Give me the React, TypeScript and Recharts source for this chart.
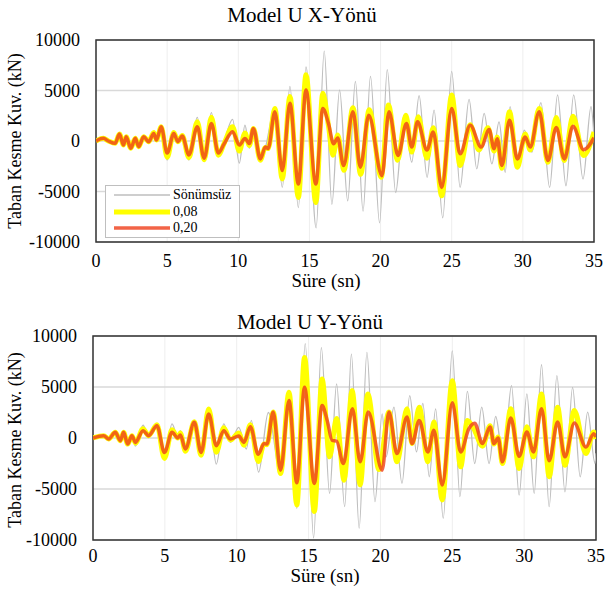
import React from 'react';
import {
  LineChart,
  Line,
  XAxis,
  YAxis,
  CartesianGrid,
  ReferenceArea,
} from 'recharts';

type Pt = [number, number];

const xTicks = [0, 5, 10, 15, 20, 25, 30, 35];
const yTicks = [-10000, -5000, 0, 5000, 10000];
const seriesNames = ['Sönümsüz', '0,08', '0,20'];
const titles = ['Model U  X-Yönü', 'Model U  Y-Yönü'];
const xTitle = 'Süre (sn)';
const yTitle = 'Taban Kesme Kuv. (kN)';

// X direction: [time (s), base shear (kN)] read at the turning points
const xGray: Pt[] = [
  [0, 0], [0.52, 260], [0.87, 0], [1.34, -230], [1.65, 690], [1.93, -400], [2.12, 430],
  [2.45, -720], [2.76, 260], [3.0, -560], [3.35, 430], [3.7, -70], [4.06, 920], [4.25, 100],
  [4.58, 1410], [5.0, -1880], [5.47, 920], [5.75, -70], [6.06, 590], [6.53, -1880],
  [7.12, 2340], [7.6, -2040], [8.11, 2800], [8.6, -1550], [9.0, -70], [9.6, 2140],
  [10.07, -2200], [10.47, 1580], [10.78, -720], [11.06, 1250], [11.6, -1800], [11.9, -700],
  [12.57, 3300], [13.09, -4600], [13.63, 5400], [14.22, -6600], [14.76, 7330], [15.47, -8600],
  [16.04, 8900], [16.58, -6260], [17.12, 5060], [17.69, -5930], [18.23, 5900], [18.77, -6930],
  [19.29, 6400], [19.93, -8100], [20.47, 7070], [21.06, -5100], [21.65, 2560], [22.19, -2100],
  [22.71, 4500], [23.27, -3600], [23.76, 3060], [24.37, -7600], [25.0, 6900], [25.59, -4600],
  [26.22, 4130], [26.76, -2760], [27.28, 2730], [27.82, -2260], [28.33, 1900], [28.76, -3100],
  [29.1, 3400], [29.62, -2760], [30.1, 1070], [30.63, -1100], [31.27, 3800], [31.88, -4600],
  [32.44, 4560], [33.03, -4430], [33.57, 4560], [34.23, -3760], [34.79, 3400], [35, 400],
];
const xYellow: Pt[] = [
  [0, 0], [0.52, 260], [0.87, 0], [1.34, -230], [1.65, 690], [1.93, -400], [2.12, 430],
  [2.45, -720], [2.76, 260], [3.0, -560], [3.35, 430], [3.7, -70], [4.06, 850], [4.25, 100],
  [4.58, 1400], [5.0, -1600], [5.47, 850], [5.75, -70], [6.06, 550], [6.53, -1650],
  [7.12, 1900], [7.6, -1850], [8.11, 2340], [8.6, -1400], [9.0, -250], [9.6, 1400],
  [10.07, -1000], [10.47, 800], [10.78, -450], [11.06, 1250], [11.55, -1900], [11.9, -650],
  [12.1, -750], [12.57, 3230], [13.09, -3760], [13.63, 4400], [14.22, -5600], [14.76, 6560],
  [15.45, -6100], [15.94, 4730], [16.34, 1500], [16.65, -1400], [16.99, 600], [17.42, -2900],
  [18.06, 3300], [18.6, -3300], [19.2, 3100], [20.05, -3600], [20.55, 3560], [21.2, -1900],
  [21.78, 2560], [22.19, -1100], [22.65, 2400], [23.26, -1700], [23.7, 1300], [24.3, -5430],
  [25.0, 4560], [25.59, -2430], [26.3, 1600], [26.9, -900], [27.55, 1300], [27.98, -1000],
  [28.2, 400], [28.52, -2700], [29.06, 2900], [29.62, -2600], [30.16, 700], [30.52, -900],
  [31.15, 3230], [31.76, -2100], [32.35, 2330], [32.91, -1930], [33.52, 2460], [34.27, -1430],
  [35, 900],
];
const xRed: Pt[] = [
  [0, 0], [0.52, 260], [0.87, 0], [1.34, -230], [1.65, 690], [1.93, -400], [2.12, 430],
  [2.45, -720], [2.76, 260], [3.0, -560], [3.35, 430], [3.7, -70], [4.06, 750], [4.25, 100],
  [4.58, 1400], [5.0, -1200], [5.47, 750], [5.75, -70], [6.06, 500], [6.53, -1380],
  [7.12, 1400], [7.6, -1700], [8.11, 1740], [8.6, -1200], [9.0, -300], [9.6, 920],
  [10.07, -400], [10.47, 250], [10.78, -250], [11.06, 1250], [11.55, -1770], [11.9, -600],
  [12.1, -750], [12.57, 2900], [13.09, -2930], [13.63, 3730], [14.22, -4260], [14.76, 5060],
  [15.45, -4260], [15.94, 3230], [16.34, 1730], [16.7, -270], [16.99, 300], [17.4, -2430],
  [18.06, 2900], [18.58, -2600], [19.17, 2560], [20.1, -3430], [20.59, 2900], [21.23, -1430],
  [21.82, 1730], [22.19, -600], [22.6, 1900], [23.26, -900], [23.7, 900], [24.3, -4600],
  [25.0, 3230], [25.59, -1270], [26.3, 1550], [27.07, -600], [27.63, 1130], [27.98, -770],
  [28.2, 230], [28.52, -2430], [29.06, 2060], [29.62, -1770], [30.16, 400], [30.52, -600],
  [31.15, 2900], [31.76, -1930], [32.35, 1330], [32.91, -1770], [33.52, 1470], [34.27, -870],
  [35, 330],
];

// Y direction
const yGray: Pt[] = [
  [0, 0], [0.74, 230], [1.09, -100], [1.55, 560], [1.9, -260], [2.13, 560], [2.41, -590],
  [2.71, 230], [2.95, -800], [3.48, 1250], [3.87, 230], [4.45, 1380], [4.97, -2070],
  [5.5, 1380], [5.9, 70], [6.08, 720], [6.43, -1410], [7.05, 1700], [7.52, -1740],
  [8.05, 2690], [8.58, -2560], [9.1, 1380], [9.56, -430], [10.14, 1050], [10.67, -1080],
  [11.02, 1720], [11.52, -3350], [12.2, 2500], [13.0, -3150], [13.59, 4160], [14.18, -6890],
  [14.77, 9260], [15.35, -9800], [15.89, 8870], [16.46, -5430], [16.95, 5300], [17.51, -6730],
  [17.98, 8220], [18.52, -8840], [19.06, 8390], [19.62, -6240], [20.12, 2370], [20.4, -1850],
  [20.94, 3020], [21.5, -4450], [22.04, 4160], [22.51, -1370], [22.95, 3400], [23.4, -3800],
  [23.84, 2860], [24.37, -7870], [25.0, 8550], [25.53, -5750], [26.05, 4580], [26.56, -2500],
  [27.05, 3020], [27.56, -2500], [28.02, 2110], [28.56, -2340], [29.12, 5130], [29.65, -5590],
  [30.19, 4320], [30.7, -5430], [31.21, 7180], [31.74, -6730], [32.28, 6110], [32.84, -5270],
  [33.37, 4970], [33.9, -3800], [34.42, 2540], [34.93, -2500], [35, -1500],
];
const yYellow: Pt[] = [
  [0, 0], [0.74, 230], [1.09, -100], [1.55, 560], [1.9, -260], [2.13, 560], [2.41, -590],
  [2.71, 230], [2.95, -500], [3.48, 900], [3.87, 230], [4.45, 1300], [4.97, -2000],
  [5.5, 800], [5.9, 0], [6.08, 500], [6.43, -1300], [7.05, 1600], [7.52, -1700],
  [8.05, 2850], [8.58, -1400], [9.1, 1000], [9.56, -200], [10.14, 500], [10.5, -700],
  [10.95, 1300], [11.5, -2300], [11.9, -600], [12.1, -650], [12.54, 2540], [13.05, -3480],
  [13.64, 4490], [14.18, -6560], [14.72, 7900], [15.4, -7200], [15.94, 5790], [16.46, -1850],
  [16.95, 1900], [17.47, -4130], [18.03, 4650], [18.59, -4600], [19.12, 4320], [19.9, -3100],
  [20.59, 2540], [21.15, -2340], [21.85, 2860], [22.2, -550], [22.7, 3020], [23.3, -2340],
  [23.72, 1560], [24.3, -6080], [25.0, 5620], [25.58, -2830], [26.05, 1720], [26.5, 900],
  [27.1, -800], [27.63, 1200], [27.9, -600], [28.19, 100], [28.49, -2500], [29.07, 2860],
  [29.65, -2990], [30.19, 1100], [30.65, -1850], [31.21, 4320], [31.74, -3800], [32.33, 3020],
  [32.84, -2670], [33.49, 2700], [34.3, -1530], [34.84, 600], [35, -100],
];
const yRed: Pt[] = [
  [0, 0], [0.74, 230], [1.09, -100], [1.55, 560], [1.9, -260], [2.13, 560], [2.41, -590],
  [2.71, 230], [2.95, -430], [3.48, 720], [3.87, 230], [4.45, 1210], [4.97, -1410],
  [5.5, 560], [5.9, 0], [6.08, 300], [6.43, -1080], [7.05, 1540], [7.52, -1410],
  [8.05, 2360], [8.58, -750], [9.1, 720], [9.56, -100], [10.14, 200], [10.5, -430],
  [10.95, 1100], [11.5, -1600], [11.9, -550], [12.1, -600], [12.54, 2540], [13.05, -3150],
  [13.64, 3670], [14.18, -4390], [14.72, 4970], [15.4, -4450], [15.94, 3180], [16.3, 1700],
  [16.64, -230], [16.95, -300], [17.42, -2500], [18.05, 2860], [18.59, -2340], [19.15, 2540],
  [20.12, -3150], [20.59, 2540], [21.15, -1530], [21.85, 2050], [22.2, -550], [22.7, 1720],
  [23.3, -1370], [23.72, 750], [24.3, -4620], [25.0, 3450], [25.58, -1370], [26.15, 900],
  [26.56, 1450], [27.1, -550], [27.63, 1070], [27.9, -550], [28.19, 0], [28.49, -2340],
  [29.07, 1950], [29.65, -1790], [30.19, 590], [30.65, -1370], [31.21, 2860], [31.74, -2240],
  [32.33, 1560], [32.84, -1850], [33.49, 1460], [34.3, -880], [34.84, 420], [35, 100],
];

const FONT = '"Times New Roman", "Liberation Serif", serif';
const GRAY = '#BEBEBE';
const YELLOW = '#FFFF00';
const RED = '#EF3D19';
const RED_OPACITY = 0.8;

const toData = (pairs: Pt[]) => pairs.map(([t, v]) => ({ t, v }));

interface PanelProps {
  top: number;
  height: number;
  axisWidth: number;
  margin: { top: number; right: number; bottom: number; left: number };
  tickGap: number;
  gray: Pt[];
  yellow: Pt[];
  red: Pt[];
}

const Panel: React.FC<PanelProps> = ({ top, height, axisWidth, margin, tickGap, gray, yellow, red }) => {
  const tick = { fill: '#000', fontSize: 18, fontFamily: FONT };
  return (
    <div style={{ position: 'absolute', left: 0, top, fontFamily: FONT }}>
      <LineChart width={605} height={height} margin={margin} style={{ fontFamily: FONT }}>
        <CartesianGrid horizontal={false} stroke="#EEEEEE" strokeWidth={1} />
        <CartesianGrid vertical={false} stroke="#D9D9D9" strokeWidth={1.5} />
        <XAxis
          dataKey="t"
          type="number"
          domain={[0, 35]}
          ticks={xTicks}
          interval={0}
          allowDataOverflow
          axisLine={false}
          tickLine={false}
          tickSize={0}
          tickMargin={tickGap}
          height={30}
          tick={tick}
        />
        <YAxis
          type="number"
          domain={[-10000, 10000]}
          ticks={yTicks}
          interval={0}
          allowDataOverflow
          axisLine={false}
          tickLine={false}
          tickSize={0}
          tickMargin={16}
          width={axisWidth}
          tick={tick}
        />
        <Line data={toData(gray)} dataKey="v" name={seriesNames[0]} type="monotone" stroke={GRAY} strokeWidth={1.3} dot={false} isAnimationActive={false} />
        <Line data={toData(yellow)} dataKey="v" name={seriesNames[1]} type="monotone" stroke={YELLOW} strokeWidth={5} dot={false} isAnimationActive={false} />
        <Line data={toData(red)} dataKey="v" name={seriesNames[2]} type="monotone" stroke={RED} strokeOpacity={RED_OPACITY} strokeWidth={3.5} dot={false} isAnimationActive={false} />
        <ReferenceArea x1={0} x2={35} y1={-10000} y2={10000} fill="none" stroke="#333" strokeWidth={1.5} ifOverflow="visible" />
      </LineChart>
    </div>
  );
};

const textStyle: React.CSSProperties = {
  position: 'absolute',
  fontFamily: FONT,
  color: '#000',
  whiteSpace: 'nowrap',
  transform: 'translate(-50%, -50%)',
  lineHeight: 1,
};

const LegendBox = () => {
  const colors = [GRAY, YELLOW, RED];
  const widths = [1.3, 5, 3.5];
  return (
    <div
      style={{
        position: 'absolute',
        left: 105,
        top: 185,
        width: 133,
        height: 51,
        background: '#fff',
        border: '1px solid #BFBFBF',
        fontFamily: FONT,
        fontSize: 14,
      }}
    >
      {seriesNames.map((name, i) => (
        <div key={name} style={{ position: 'absolute', left: 0, top: 1 + i * 16.5, height: 16, width: 133 }}>
          <svg width={60} height={16} style={{ position: 'absolute', left: 6, top: 0 }}>
            <line x1={2} x2={58} y1={8} y2={8} stroke={colors[i]} strokeWidth={widths[i]} strokeOpacity={i === 2 ? RED_OPACITY : 1} />
          </svg>
          <span style={{ position: 'absolute', left: 67, top: 0, lineHeight: '16px' }}>{name}</span>
        </div>
      ))}
    </div>
  );
};

export default function App() {
  return (
    <div style={{ position: 'absolute', left: 0, top: 0, width: 605, height: 591, background: '#fff', overflow: 'hidden', fontFamily: FONT }}>
      <div style={{ ...textStyle, left: 302, top: 15, fontSize: 21 }}>{titles[0]}</div>
      <div style={{ ...textStyle, left: 15, top: 141, fontSize: 18, transform: 'translate(-50%, -50%) rotate(-90deg)' }}>{yTitle}</div>
      <Panel
        top={0}
        height={290}
        axisWidth={96}
        margin={{ top: 40, right: 11, bottom: 18, left: 0 }}
        tickGap={12}
        gray={xGray}
        yellow={xYellow}
        red={xRed}
      />
      <div style={{ ...textStyle, left: 326, top: 280, fontSize: 19 }}>{xTitle}</div>
      <LegendBox />

      <div style={{ ...textStyle, left: 310, top: 322, fontSize: 21 }}>{titles[1]}</div>
      <div style={{ ...textStyle, left: 15, top: 440, fontSize: 18, transform: 'translate(-50%, -50%) rotate(-90deg)' }}>{yTitle}</div>
      <Panel
        top={296}
        height={295}
        axisWidth={93}
        margin={{ top: 40, right: 9, bottom: 21, left: 0 }}
        tickGap={9}
        gray={yGray}
        yellow={yYellow}
        red={yRed}
      />
      <div style={{ ...textStyle, left: 325, top: 575, fontSize: 19 }}>{xTitle}</div>
    </div>
  );
}
